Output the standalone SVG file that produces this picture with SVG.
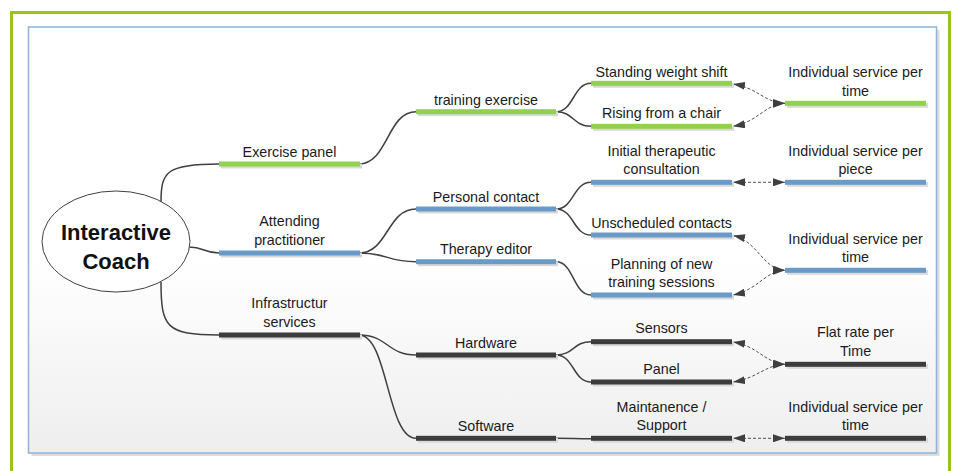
<svg xmlns="http://www.w3.org/2000/svg" width="955" height="471" viewBox="0 0 955 471">
  <defs>
    <linearGradient id="panelFill" x1="0" y1="0" x2="0" y2="1">
      <stop offset="0" stop-color="#ffffff"/>
      <stop offset="0.55" stop-color="#ffffff"/>
      <stop offset="1" stop-color="#eeeeee"/>
    </linearGradient>
    <marker id="arrow" viewBox="0 0 12 8" refX="12" refY="4" markerWidth="12" markerHeight="8" markerUnits="userSpaceOnUse" orient="auto-start-reverse">
      <path d="M0,0 L12,4 L0,8 z" fill="#3f3f3f"/>
    </marker>
  </defs>
  <style>
    text { font-family: "Liberation Sans", Arial, sans-serif; font-size: 14.3px; fill: #1a1a1a; text-anchor: middle; }
    .title { font-size: 22px; font-weight: bold; fill: #111111; }
    .shadow { fill: #d9d9d9; }
    .green { fill: #92d050; }
    .blue { fill: #6a9bc8; }
    .dark { fill: #3c3c3c; }
    .link { fill: none; stroke: #404040; stroke-width: 1.5; }
    .dash { fill: none; stroke: #505050; stroke-width: 1; stroke-dasharray: 3 2; marker-start: url(#arrow); marker-end: url(#arrow); }
  </style>

  <!-- frames -->
  <rect x="11.5" y="12.5" width="938" height="500" fill="#ffffff" stroke="#9bc31a" stroke-width="3"/>
  <rect x="31.5" y="30" width="908" height="426" fill="#dddddd"/>
  <rect x="28.5" y="27" width="908" height="426" fill="url(#panelFill)" stroke="#8fb2da" stroke-width="1.5"/>

  <!-- connectors -->
  <g id="connectors">
    <path class="link" d="M161,202 C161,172 166,164 219,164"/>
    <path class="link" d="M189,247 C204,247 204,253 219,253"/>
    <path class="link" d="M161,282 C161,327 166,335 219,335"/>

    <path class="link" d="M359,164 C388,164 387,111.7 416,111.7"/>
    <path class="link" d="M359,253 C388,253 387,209 416,209"/>
    <path class="link" d="M359,253 C388,253 387,261.7 416,261.7"/>
    <path class="link" d="M359,335 C388,335 387,355 416,355"/>
    <path class="link" d="M359,335 C388,335 387,438.3 416,438.3"/>

    <path class="link" d="M556,111.7 C574,111.7 573,83.3 591,83.3"/>
    <path class="link" d="M556,111.7 C574,111.7 573,126.3 591,126.3"/>
    <path class="link" d="M556,209 C574,209 573,182.3 591,182.3"/>
    <path class="link" d="M556,209 C574,209 573,235 591,235"/>
    <path class="link" d="M556,261.7 C574,261.7 573,295 591,295"/>
    <path class="link" d="M556,355 C574,355 573,341.7 591,341.7"/>
    <path class="link" d="M556,355 C574,355 573,382 591,382"/>
    <path class="link" d="M556,438.3 C574,438.3 573,438.8 591,438.8"/>

    <path class="dash" d="M733,84 C758,88 765,103 785,103.3"/>
    <path class="dash" d="M733,126.3 C758,122 765,104 785,103.3"/>
    <path class="dash" d="M733,182.3 L785,182.3"/>
    <path class="dash" d="M733,235.5 C758,241 762,269 785,270.3"/>
    <path class="dash" d="M733,295 C758,290 765,271 785,270.3"/>
    <path class="dash" d="M733,342 C758,346 765,363 785,364.3"/>
    <path class="dash" d="M733,382 C758,378 765,365 785,364.3"/>
    <path class="dash" d="M733,438.3 L785,438.3"/>
  </g>

  <!-- root -->
  <g id="interactive-coach">
    <ellipse cx="116" cy="241.5" rx="74" ry="50.5" fill="#ffffff" stroke="#404040" stroke-width="1"/>
    <text class="title" x="116" y="240">Interactive</text>
    <text class="title" x="116" y="269">Coach</text>
  </g>

  <!-- level 1 -->
  <g id="exercise-panel">
    <rect class="shadow" x="221" y="163.5" width="141" height="5"/>
    <rect class="green" x="219" y="161.5" width="141" height="5"/>
    <text x="289.5" y="157">Exercise panel</text>
  </g>
  <g id="attending-practitioner">
    <rect class="shadow" x="221" y="252.5" width="141" height="5"/>
    <rect class="blue" x="219" y="250.5" width="141" height="5"/>
    <text x="289.5" y="226">Attending</text>
    <text x="289.5" y="245">practitioner</text>
  </g>
  <g id="infrastructure-services">
    <rect class="shadow" x="221" y="334.5" width="141" height="5"/>
    <rect class="dark" x="219" y="332.5" width="141" height="5"/>
    <text x="289.5" y="308">Infrastructur</text>
    <text x="289.5" y="327">services</text>
  </g>

  <!-- level 2 -->
  <g id="training-exercise">
    <rect class="shadow" x="418" y="111.2" width="140" height="5"/>
    <rect class="green" x="416" y="109.2" width="140" height="5"/>
    <text x="486" y="105">training exercise</text>
  </g>
  <g id="personal-contact">
    <rect class="shadow" x="418" y="208.5" width="140" height="5"/>
    <rect class="blue" x="416" y="206.5" width="140" height="5"/>
    <text x="486" y="202.3">Personal contact</text>
  </g>
  <g id="therapy-editor">
    <rect class="shadow" x="418" y="261.2" width="140" height="5"/>
    <rect class="blue" x="416" y="259.2" width="140" height="5"/>
    <text x="486" y="254">Therapy editor</text>
  </g>
  <g id="hardware">
    <rect class="shadow" x="418" y="354.5" width="140" height="5"/>
    <rect class="dark" x="416" y="352.5" width="140" height="5"/>
    <text x="486" y="347.7">Hardware</text>
  </g>
  <g id="software">
    <rect class="shadow" x="418" y="437.8" width="140" height="5"/>
    <rect class="dark" x="416" y="435.8" width="140" height="5"/>
    <text x="486" y="431">Software</text>
  </g>

  <!-- level 3 -->
  <g id="standing-weight-shift">
    <rect class="shadow" x="593" y="82.8" width="141" height="5"/>
    <rect class="green" x="591" y="80.8" width="141" height="5"/>
    <text x="661.5" y="77.3">Standing weight shift</text>
  </g>
  <g id="rising-from-a-chair">
    <rect class="shadow" x="593" y="125.8" width="141" height="5"/>
    <rect class="green" x="591" y="123.8" width="141" height="5"/>
    <text x="661.5" y="118.3">Rising from a chair</text>
  </g>
  <g id="initial-consultation">
    <rect class="shadow" x="593" y="181.8" width="141" height="5"/>
    <rect class="blue" x="591" y="179.8" width="141" height="5"/>
    <text x="661.5" y="156">Initial therapeutic</text>
    <text x="661.5" y="174.3">consultation</text>
  </g>
  <g id="unscheduled-contacts">
    <rect class="shadow" x="593" y="234.5" width="141" height="5"/>
    <rect class="blue" x="591" y="232.5" width="141" height="5"/>
    <text x="661.5" y="227.7">Unscheduled contacts</text>
  </g>
  <g id="planning-sessions">
    <rect class="shadow" x="593" y="294.5" width="141" height="5"/>
    <rect class="blue" x="591" y="292.5" width="141" height="5"/>
    <text x="661.5" y="269">Planning of new</text>
    <text x="661.5" y="286.7">training sessions</text>
  </g>
  <g id="sensors">
    <rect class="shadow" x="593" y="341.2" width="141" height="5"/>
    <rect class="dark" x="591" y="339.2" width="141" height="5"/>
    <text x="661.5" y="333.3">Sensors</text>
  </g>
  <g id="panel">
    <rect class="shadow" x="593" y="381.5" width="141" height="5"/>
    <rect class="dark" x="591" y="379.5" width="141" height="5"/>
    <text x="661.5" y="374">Panel</text>
  </g>
  <g id="maintenance-support">
    <rect class="shadow" x="593" y="437.8" width="141" height="5"/>
    <rect class="dark" x="591" y="435.8" width="141" height="5"/>
    <text x="661.5" y="411.7">Maintanence /</text>
    <text x="661.5" y="430">Support</text>
  </g>

  <!-- billing -->
  <g id="billing-time-exercise">
    <rect class="shadow" x="787" y="102.8" width="141" height="5"/>
    <rect class="green" x="785" y="100.8" width="141" height="5"/>
    <text x="855.5" y="77">Individual service per</text>
    <text x="855.5" y="95.7">time</text>
  </g>
  <g id="billing-piece">
    <rect class="shadow" x="787" y="181.8" width="141" height="5"/>
    <rect class="blue" x="785" y="179.8" width="141" height="5"/>
    <text x="855.5" y="156">Individual service per</text>
    <text x="855.5" y="174.3">piece</text>
  </g>
  <g id="billing-time-practitioner">
    <rect class="shadow" x="787" y="269.8" width="141" height="5"/>
    <rect class="blue" x="785" y="267.8" width="141" height="5"/>
    <text x="855.5" y="244.3">Individual service per</text>
    <text x="855.5" y="262.3">time</text>
  </g>
  <g id="billing-flat-rate">
    <rect class="shadow" x="787" y="363.8" width="141" height="5"/>
    <rect class="dark" x="785" y="361.8" width="141" height="5"/>
    <text x="855.5" y="337.3">Flat rate per</text>
    <text x="855.5" y="356">Time</text>
  </g>
  <g id="billing-time-support">
    <rect class="shadow" x="787" y="437.8" width="141" height="5"/>
    <rect class="dark" x="785" y="435.8" width="141" height="5"/>
    <text x="855.5" y="411.7">Individual service per</text>
    <text x="855.5" y="430">time</text>
  </g>
</svg>
